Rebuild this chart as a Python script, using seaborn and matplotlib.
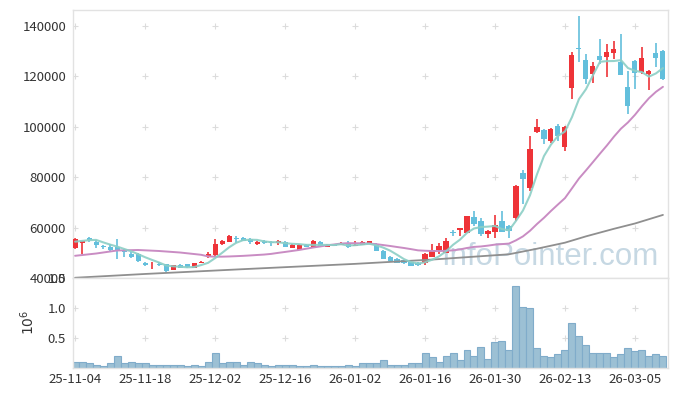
import numpy as np
import pandas as pd
import matplotlib
matplotlib.use("Agg")
import matplotlib.pyplot as plt
import seaborn as sns

# ---------------- data (values in KRW / shares) ----------------
# open/high/low/close in thousands
opens = [52.0, 53.8, 55.9, 54.4, 52.6, 52.4, 52.4, 50.9, 49.6, 49.4,
         46.1, 45.0, 45.6, 45.4, 43.3, 45.0, 45.4, 44.0, 46.1, 48.2,
         49.0, 53.4, 54.4, 55.8, 55.9, 55.6, 53.4, 54.7, 54.4, 53.8,
         54.4, 51.9, 51.1, 53.1, 52.4, 54.3, 52.4, 53.4, 53.2, 54.0,
         52.7, 53.2, 53.6, 53.5, 50.8, 48.5, 47.7, 47.1, 46.3, 46.1,
         46.1, 48.5, 51.0, 50.0, 58.1, 58.9, 58.0, 64.2, 62.6, 57.6,
         58.4, 62.6, 60.6, 63.9, 81.8, 75.8, 97.7, 98.7, 94.1, 100.3,
         92.0, 115.1, 130.9, 126.4, 120.8, 128.1, 127.7, 129.3, 125.5, 115.6,
         125.8, 121.7, 120.7, 129.1, 129.8]
highs = [56.0, 54.8, 56.3, 55.0, 53.2, 53.5, 55.6, 51.5, 50.3, 49.8,
         46.3, 46.3, 46.3, 45.6, 45.2, 45.6, 45.6, 46.0, 46.8, 50.2,
         55.4, 54.9, 56.9, 56.8, 56.2, 55.9, 54.5, 55.0, 54.6, 55.0,
         54.6, 53.3, 53.3, 53.3, 54.9, 54.5, 53.3, 53.6, 54.3, 54.6,
         54.6, 54.6, 54.8, 53.7, 51.0, 48.7, 47.9, 47.3, 46.5, 46.3,
         50.0, 53.6, 54.0, 56.0, 58.9, 59.9, 64.7, 66.5, 63.7, 59.0,
         65.0, 66.5, 61.0, 76.9, 82.6, 96.3, 103.0, 99.0, 99.5, 101.0,
         100.2, 129.4, 144.0, 128.8, 125.5, 134.8, 132.9, 133.8, 136.7, 122.1,
         126.3, 131.7, 122.5, 133.3, 130.5]
lows = [51.6, 49.7, 54.1, 51.7, 51.5, 50.5, 47.7, 48.4, 47.8, 46.2,
        44.8, 43.4, 44.8, 42.4, 43.0, 43.8, 44.0, 43.8, 45.8, 47.8,
        48.7, 53.0, 54.2, 54.0, 54.5, 53.3, 53.2, 53.5, 52.5, 53.2,
        52.2, 51.7, 50.9, 52.2, 52.2, 52.2, 52.2, 52.5, 53.0, 51.8,
        52.6, 53.0, 53.4, 50.6, 47.5, 46.7, 45.9, 45.7, 44.6, 44.8,
        45.2, 48.2, 49.4, 49.8, 56.7, 56.7, 57.8, 60.6, 56.7, 56.0,
        55.8, 58.2, 55.9, 62.6, 69.2, 74.5, 97.5, 93.0, 93.5, 94.4,
        90.4, 110.9, 125.5, 116.9, 117.4, 124.8, 119.5, 126.8, 120.4, 105.0,
        114.9, 121.0, 114.5, 123.5, 118.5]
closes = [55.6, 54.6, 55.1, 53.1, 52.3, 51.1, 50.7, 50.4, 48.5, 46.6,
          45.0, 45.3, 45.3, 42.6, 45.0, 44.1, 44.2, 45.8, 46.5, 49.4,
          53.4, 54.7, 56.7, 55.4, 54.8, 54.3, 54.3, 53.8, 53.8, 54.7,
          52.4, 53.1, 53.1, 52.4, 54.6, 52.4, 53.1, 52.8, 54.0, 52.1,
          53.0, 54.3, 54.6, 50.8, 47.7, 46.9, 46.1, 45.9, 44.8, 45.0,
          49.4, 51.0, 52.7, 54.7, 57.9, 59.7, 64.5, 61.3, 57.6, 58.7,
          61.0, 58.4, 58.7, 76.5, 79.2, 91.1, 99.9, 95.0, 99.2, 96.3,
          99.9, 128.4, 130.7, 118.8, 124.0, 126.5, 129.7, 130.9, 120.6, 108.3,
          121.1, 127.0, 122.0, 127.0, 118.8]
volume = [0.086, 0.086, 0.07, 0.05, 0.03, 0.07, 0.20, 0.07, 0.086, 0.07,
          0.07, 0.05, 0.05, 0.05, 0.05, 0.05, 0.03, 0.05, 0.03, 0.10,
          0.24, 0.07, 0.086, 0.086, 0.05, 0.086, 0.07, 0.05, 0.03, 0.05,
          0.05, 0.05, 0.03, 0.03, 0.05, 0.03, 0.03, 0.03, 0.03, 0.05,
          0.03, 0.07, 0.07, 0.07, 0.12, 0.05, 0.05, 0.05, 0.07, 0.07,
          0.24, 0.17, 0.10, 0.20, 0.24, 0.12, 0.29, 0.19, 0.35, 0.14,
          0.42, 0.45, 0.29, 1.365, 1.02, 1.00, 0.335, 0.20, 0.17, 0.22,
          0.29, 0.75, 0.52, 0.37, 0.24, 0.24, 0.25, 0.17, 0.22, 0.335,
          0.27, 0.29, 0.19, 0.22, 0.20]  # millions of shares

# moving averages whose history lies before the chart
ma5_head = [54.4, 54.7, 55.0, 55.1]
ma20_head_idx = [0, 3, 6, 9, 12, 15, 18]
ma20_head_val = [48.8, 49.7, 50.9, 51.1, 50.7, 50.1, 49.2]
ma_long_idx = [0, 10, 24, 40, 51, 62, 66, 70, 73, 77, 80, 84]
ma_long_val = [40.1, 41.6, 43.5, 45.6, 47.3, 49.4, 51.6, 54.0, 56.5, 59.5, 61.6, 65.0]

tick_labels = ['25-11-04', '25-11-18', '25-12-02', '25-12-16', '26-01-02',
               '26-01-16', '26-01-30', '26-02-13', '26-03-05']

# ---------------- build frame ----------------
n = len(closes)
df = pd.DataFrame({
    'i': np.arange(n),
    'open': np.array(opens) * 1000,
    'high': np.array(highs) * 1000,
    'low': np.array(lows) * 1000,
    'close': np.array(closes) * 1000,
    'vol': volume,
})
df['up'] = df['close'] >= df['open']

ma5 = df['close'].rolling(5).mean()
ma5.iloc[:4] = np.array(ma5_head) * 1000
ma20 = df['close'].rolling(20).mean()
ma20_x = list(ma20_head_idx) + list(range(19, n))
ma20_y = list(np.array(ma20_head_val) * 1000) + list(ma20.iloc[19:])

# ---------------- style ----------------
sns.set_style("white")
plt.rcParams['font.family'] = ['Noto Sans CJK KR', 'DejaVu Sans']

RED = '#ee3338'
BLUE = '#63bfdc'
SPINE = '#e2e2e2'
TXT = '#333333'

fig = plt.figure(figsize=(6.77, 3.96), dpi=100)
ax = fig.add_axes([73 / 677, 1 - 278 / 396, (667.5 - 73) / 677, (278 - 10) / 396])
axv = fig.add_axes([73 / 677, 1 - 367.5 / 396, (667.5 - 73) / 677, (367.5 - 278) / 396], sharex=ax)

xlim = (-0.3, 84.65)

# watermark
ax.text(0.985, 0.022, 'InfoPointer.com', transform=ax.transAxes, ha='right', va='bottom',
        fontsize=22.5, family='Liberation Sans', color='#b3cbda', alpha=0.75, zorder=0)

# grid crosses
xt = np.arange(0, n, 10)
for yy in [60000, 80000, 100000, 120000, 140000]:
    ax.plot(xt, [yy] * len(xt), ls='none', marker='+', ms=5, mew=0.8, color='#dcdcdc', zorder=0.5)
for yy in [0.5, 1.0]:
    axv.plot(xt, [yy] * len(xt), ls='none', marker='+', ms=5, mew=0.8, color='#dcdcdc', zorder=0.5)

# candles
cols = np.where(df['up'], RED, BLUE)
ax.vlines(df['i'], df['low'], df['high'], colors=cols, linewidth=1.2, zorder=2)
body_lo = np.minimum(df['open'], df['close'])
body_h = np.maximum(np.abs(df['close'] - df['open']), 250)
ax.bar(df['i'], body_h, bottom=body_lo, width=0.72, color=cols, linewidth=0, zorder=3)

# moving averages
sns.lineplot(x=ma_long_idx, y=np.array(ma_long_val) * 1000, ax=ax, color='#8f8f8f',
             linewidth=1.3, estimator=None, sort=False, zorder=4)
sns.lineplot(x=ma20_x, y=ma20_y, ax=ax, color='#c98cc3', linewidth=1.4,
             estimator=None, sort=False, zorder=4)
sns.lineplot(x=df['i'], y=ma5, ax=ax, color='#8ccfc6', linewidth=1.5, alpha=0.9,
             estimator=None, sort=False, zorder=4)

ax.set_ylim(40000, 146200)
ax.set_xlim(*xlim)
ax.set_yticks(range(40000, 140001, 20000))
ax.set_yticklabels([str(v) for v in range(40000, 140001, 20000)])
ax.set_xlabel('')
ax.set_ylabel('')
ax.tick_params(axis='both', length=0, labelsize=9.5, colors=TXT, pad=5)
ax.tick_params(axis='x', labelbottom=False)

# volume
sns.barplot(x=df['i'], y=df['vol'], ax=axv, native_scale=True, width=1.0,
            color='#9cc0d4', edgecolor='#80acca', linewidth=0.8, saturation=1, zorder=2)
axv.set_ylim(0, 1.5)
axv.set_xlim(*xlim)
axv.set_yticks([0.5, 1.0, 1.5])
axv.set_yticklabels(['0.5', '1.0', '1.5'])
axv.set_xticks(xt)
axv.set_xticklabels(tick_labels)
axv.set_xlabel('')
axv.set_ylabel(r'$10^{6}$', fontsize=10, color=TXT, labelpad=8)
axv.tick_params(axis='both', length=0, labelsize=9.5, colors=TXT, pad=5)
axv.tick_params(axis='x', pad=4)

for a in (ax, axv):
    for s in a.spines.values():
        s.set_color(SPINE)
        s.set_linewidth(1.0)

fig.savefig('out.png', dpi=100)
